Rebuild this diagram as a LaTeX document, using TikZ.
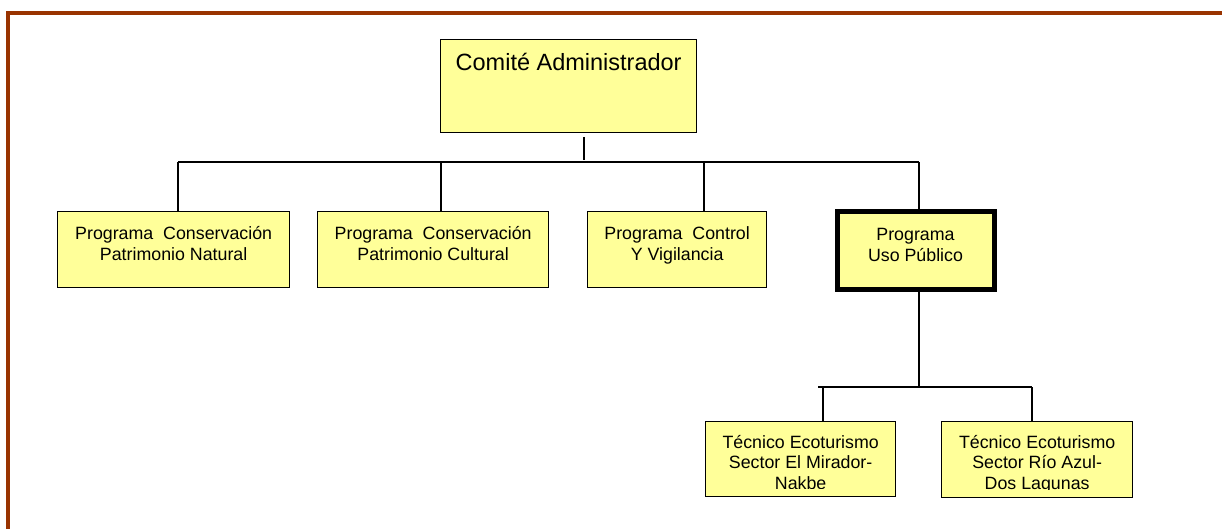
\documentclass[tikz,border=0pt]{standalone}
\usepackage{fontspec}
\setmainfont{Liberation Sans}
\definecolor{frame}{HTML}{993300}
\definecolor{boxfill}{HTML}{FFFF99}
\tikzset{
  x=1pt, y=-1pt,
  box/.style={draw=black, fill=boxfill, line width=1.3pt, inner sep=0pt, anchor=north west},
  bigbox/.style={box, line width=5pt},
  txt/.style={anchor=north, inner sep=0pt, align=center, font=\fontsize{17.8}{20.5}\selectfont},
  bigtxt/.style={anchor=north, inner sep=0pt, align=center, font=\fontsize{23.5}{27}\selectfont},
  link/.style={draw=black, line width=1.3pt},
}
\begin{document}
\begin{tikzpicture}
\useasboundingbox (0,0) rectangle (1222,529);
% frame
\draw[frame, line width=4.5pt] (8,529) -- (8,13) -- (1222,13);

% boxes
\node[box, minimum width=256pt, minimum height=93pt] (ca) at (440,39) {};
\node[bigtxt] (tca) at ([yshift=-9.5pt]ca.north) {\rule{0pt}{22pt}Comité Administrador};

\node[box, minimum width=232pt, minimum height=76pt] (b1) at (57,211) {};
\node[txt] (t1) at ([yshift=-11.5pt]b1.north) {\rule{0pt}{17pt}Programa~ Conservación\\Patrimonio Natural};

\node[box, minimum width=231pt, minimum height=76pt] (b2) at (317,211) {};
\node[txt] (t2) at ([yshift=-11.5pt]b2.north) {\rule{0pt}{17pt}Programa~ Conservación\\Patrimonio Cultural};

\node[box, minimum width=179pt, minimum height=76pt] (b3) at (587,211) {};
\node[txt] (t3) at ([yshift=-11.5pt]b3.north) {\rule{0pt}{17pt}Programa~ Control\\Y Vigilancia};

\node[bigbox, minimum width=157pt, minimum height=77pt] (b4) at (834.5,209.5) {};
\node[txt] (t4) at ([yshift=-14pt]b4.north) {\rule{0pt}{17pt}Programa\\Uso Público};

\node[box, minimum width=190pt, minimum height=75pt] (b5) at (705,421) {};
\begin{scope}
  \clip ([xshift=1pt,yshift=8.5pt]b5.south west) rectangle ([xshift=-1pt,yshift=-1pt]b5.north east);
  \node[txt] (t5) at ([yshift=-10pt]b5.north) {\rule{0pt}{17pt}Técnico Ecoturismo\\Sector El Mirador-\\Nakbe};
\end{scope}

\node[box, minimum width=191pt, minimum height=76pt] (b6) at (941,421) {};
\begin{scope}
  \clip ([xshift=1pt,yshift=8.5pt]b6.south west) rectangle ([xshift=-1pt,yshift=-1pt]b6.north east);
  \node[txt] (t6) at ([yshift=-10pt]b6.north) {\rule{0pt}{17pt}Técnico Ecoturismo\\Sector Río Azul-\\Dos Lagunas};
\end{scope}

% connector coordinates
\coordinate (tickTop) at (584,137);
\coordinate (tickBot) at (584,160);
\coordinate (busL) at (178,162);
\coordinate (busR) at (919,162);
\coordinate (d1) at (178,162);
\coordinate (d2) at (441,162);
\coordinate (d3) at (704,162);
\coordinate (d4) at (919,162);
\coordinate (sub) at (919,387);
\coordinate (subL) at (818,387);
\coordinate (subR) at (1032,387);
\coordinate (e1) at (823,387);
\coordinate (e2) at (1032,387);

\draw[link] (tickTop) -- (tickBot);
\draw[link] (busL) -- (busR);
\draw[link] (d1) -- (d1 |- b1.north);
\draw[link] (d2) -- (d2 |- b2.north);
\draw[link] (d3) -- (d3 |- b3.north);
\draw[link] (d4) -- (d4 |- b4.north);
\draw[link] (sub |- b4.south) -- (sub);
\draw[link] (subL) -- (subR);
\draw[link] (e1) -- (e1 |- b5.north);
\draw[link] (e2) -- (e2 |- b6.north);
\end{tikzpicture}
\end{document}
